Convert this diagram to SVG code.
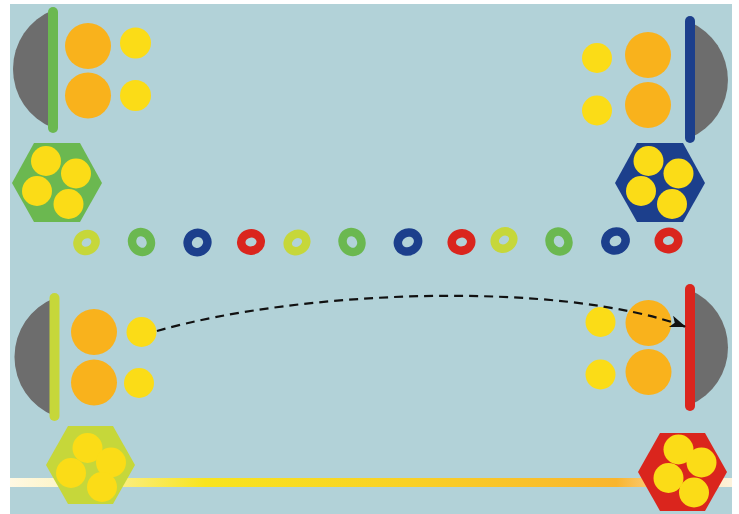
<svg xmlns="http://www.w3.org/2000/svg" width="739" height="514" viewBox="0 0 739 514">
<style>
.gray{fill:#6d6d6d}
.orange{fill:#f9b21c}
.yellow{fill:#fbdc17}
.bar{stroke-width:10;stroke-linecap:round;fill:none}
.ring{fill:none;stroke-width:8.5}
.green{fill:#6bb850;stroke:#6bb850}
.blue{fill:#1c3f8c;stroke:#1c3f8c}
.red{fill:#da251d;stroke:#da251d}
.lime{fill:#c6d73a;stroke:#c6d73a}
.ring.green,.ring.blue,.ring.red,.ring.lime{fill:none}
.hex{stroke:none}
.conn{fill:none;stroke:#111;stroke-width:2.2;stroke-dasharray:9 6}
</style>
<defs>
<linearGradient id="barGrad" x1="10" y1="0" x2="732" y2="0" gradientUnits="userSpaceOnUse">
<stop offset="0" stop-color="#fff9e3"/>
<stop offset="0.06" stop-color="#fdf5cc"/>
<stop offset="0.27" stop-color="#f8e41e"/>
<stop offset="0.55" stop-color="#f9d125"/>
<stop offset="0.84" stop-color="#f9b52e"/>
<stop offset="0.9" stop-color="#fad08a"/>
<stop offset="1" stop-color="#fdf3dc"/>
</linearGradient>
<marker id="arrow" markerUnits="userSpaceOnUse" markerWidth="18" markerHeight="14" refX="16" refY="6" orient="auto">
<path d="M0,0 L16,6 L0,12 L4,6 Z" fill="#111"/>
</marker>
</defs>
<rect x="0" y="0" width="739" height="514" fill="#ffffff"/>
<rect x="10" y="4" width="722" height="510" fill="#b2d2d8"/>
<rect x="10" y="478" width="722" height="9" fill="url(#barGrad)"/>

<g id="node-top-left">
<path class="gray" d="M53,10 A63.5,63.5 0 0 0 53,128 Z"/>
<line class="bar green" x1="53" y1="12" x2="53" y2="128"/>
<circle class="orange" cx="88" cy="46" r="23"/>
<circle class="orange" cx="88" cy="95.5" r="23"/>
<circle class="yellow" cx="135.5" cy="43" r="15.5"/>
<circle class="yellow" cx="135.5" cy="95.5" r="15.5"/>
</g>
<g id="node-top-left-hex">
<polygon class="hex green" points="12,183 34,143 80,143 102,183 80,222 34,222"/>
<circle class="yellow" cx="46" cy="161" r="15"/>
<circle class="yellow" cx="76" cy="173.5" r="15"/>
<circle class="yellow" cx="37" cy="191" r="15"/>
<circle class="yellow" cx="68.5" cy="204" r="15"/>
</g>

<g id="node-top-right">
<path class="gray" d="M690,22 A63.3,63.3 0 0 1 690,138 Z"/>
<line class="bar blue" x1="690" y1="21" x2="690" y2="138"/>
<circle class="orange" cx="648" cy="55" r="23"/>
<circle class="orange" cx="648" cy="105" r="23"/>
<circle class="yellow" cx="597" cy="58" r="15"/>
<circle class="yellow" cx="597" cy="110.5" r="15"/>
</g>
<g id="node-top-right-hex">
<polygon class="hex blue" points="615,183 637,143 683,143 705,183 683,222 637,222"/>
<circle class="yellow" cx="648.5" cy="161" r="15"/>
<circle class="yellow" cx="678.5" cy="173.5" r="15"/>
<circle class="yellow" cx="641" cy="191" r="15"/>
<circle class="yellow" cx="672" cy="204" r="15"/>
</g>

<g id="node-bottom-left">
<path class="gray" d="M54.5,298 A63.5,63.5 0 0 0 54.5,416 Z"/>
<line class="bar lime" x1="54.5" y1="298" x2="54.5" y2="416"/>
<circle class="orange" cx="94" cy="332" r="23"/>
<circle class="orange" cx="94" cy="382.5" r="23"/>
<circle class="yellow" cx="141.5" cy="332" r="15"/>
<circle class="yellow" cx="139" cy="383" r="15"/>
</g>
<g id="node-bottom-left-hex">
<polygon class="hex lime" points="46,465 68,426 113,426 135,465 113,504 68,504"/>
<circle class="yellow" cx="87.5" cy="448" r="15"/>
<circle class="yellow" cx="111" cy="462.5" r="15"/>
<circle class="yellow" cx="71" cy="473" r="15"/>
<circle class="yellow" cx="102" cy="487" r="15"/>
</g>

<g id="node-bottom-right">
<path class="gray" d="M690,290 A62.5,62.5 0 0 1 690,405 Z"/>
<line class="bar red" x1="690" y1="289" x2="690" y2="406"/>
<circle class="orange" cx="648.5" cy="323" r="23"/>
<circle class="orange" cx="648.5" cy="372" r="23"/>
<circle class="yellow" cx="600.5" cy="322" r="15"/>
<circle class="yellow" cx="600.5" cy="374.5" r="15"/>
</g>
<g id="node-bottom-right-hex">
<polygon class="hex red" points="638,472 660,433 705,433 727,472 705,511 660,511"/>
<circle class="yellow" cx="678.5" cy="449.5" r="15"/>
<circle class="yellow" cx="701.5" cy="462.5" r="15"/>
<circle class="yellow" cx="668.5" cy="478" r="15"/>
<circle class="yellow" cx="694" cy="492.5" r="15"/>
</g>

<g id="rings">
<ellipse class="ring lime" cx="86.5" cy="242.5" rx="9.3" ry="8.2" transform="rotate(-30 86.5 242.5)"/>
<ellipse class="ring green" cx="141.5" cy="242" rx="9.2" ry="10.2" transform="rotate(-30 141.5 242)"/>
<ellipse class="ring blue" cx="197.5" cy="242.5" rx="10" ry="9.5" transform="rotate(-30 197.5 242.5)"/>
<ellipse class="ring red" cx="251" cy="242" rx="9.8" ry="8.6" transform="rotate(-10 251 242)"/>
<ellipse class="ring lime" cx="297" cy="242.5" rx="9.6" ry="8.3" transform="rotate(-30 297 242.5)"/>
<ellipse class="ring green" cx="352" cy="242" rx="9.2" ry="10.2" transform="rotate(-30 352 242)"/>
<ellipse class="ring blue" cx="408" cy="242" rx="10.4" ry="9.3" transform="rotate(-30 408 242)"/>
<ellipse class="ring red" cx="461.5" cy="242" rx="9.8" ry="8.6" transform="rotate(-10 461.5 242)"/>
<ellipse class="ring lime" cx="504" cy="240" rx="9.6" ry="8.3" transform="rotate(-30 504 240)"/>
<ellipse class="ring green" cx="559" cy="241.5" rx="9.2" ry="10.2" transform="rotate(-30 559 241.5)"/>
<ellipse class="ring blue" cx="615.5" cy="241" rx="10.4" ry="9.3" transform="rotate(-30 615.5 241)"/>
<ellipse class="ring red" cx="668.5" cy="240.5" rx="9.8" ry="8.6" transform="rotate(-10 668.5 240.5)"/>
</g>

<g id="connectors">
<path class="conn" d="M157,331 C300,290 560,280 686,327" marker-end="url(#arrow)"/>
</g>
</svg>
